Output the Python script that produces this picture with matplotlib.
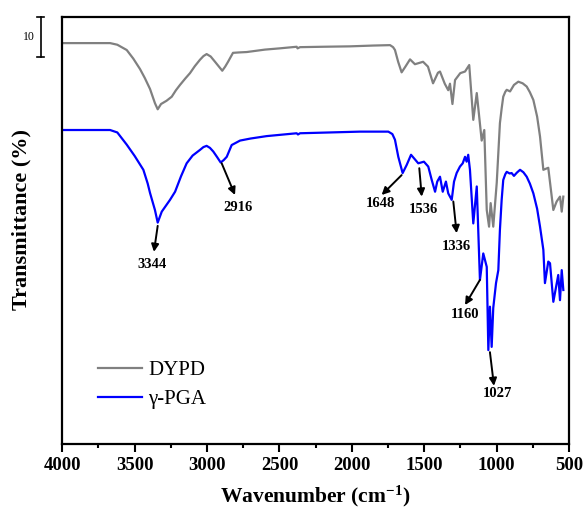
import numpy as np
import matplotlib
matplotlib.use("Agg")
import matplotlib.pyplot as plt

plt.rcParams['font.family'] = ['Liberation Serif', 'DejaVu Serif']
plt.rcParams['mathtext.fontset'] = 'custom'
plt.rcParams['mathtext.rm'] = 'Liberation Serif:bold'
plt.rcParams['mathtext.it'] = 'Liberation Serif:bold'
plt.rcParams['mathtext.bf'] = 'Liberation Serif:bold'

# ---- data (wavenumber, transmittance with offset) ----
dypd_wn = [4000, 3670, 3620, 3555, 3510, 3463, 3430, 3394, 3360, 3341, 3318, 3280,
           3244, 3215, 3187, 3150, 3118, 3085, 3049, 3025, 3003, 2975, 2945, 2920,
           2895, 2875, 2855, 2821, 2780, 2726, 2600, 2500, 2381, 2375, 2358, 2200,
           2013, 1850, 1736, 1715, 1702, 1680, 1656, 1630, 1598, 1564, 1508, 1474,
           1439, 1405, 1391, 1358, 1334, 1322, 1305, 1287, 1251, 1218, 1189, 1161,
           1137, 1103, 1085, 1068, 1052, 1041, 1023, 999, 977, 965, 954, 940, 930,
           907, 880, 850, 820, 792, 770, 746, 720, 700, 677, 643, 608, 585, 562,
           550, 539]
dypd_t = [98.6, 98.6, 98.2, 96.9, 94.8, 92.2, 90.0, 87.3, 83.8, 82.3, 83.6, 84.4,
          85.4, 87.0, 88.3, 89.9, 91.2, 92.9, 94.5, 95.4, 95.9, 95.3, 94.0, 92.9,
          91.8, 92.8, 94.0, 96.2, 96.3, 96.4, 97.0, 97.3, 97.7, 97.3, 97.6, 97.7,
          97.8, 98.0, 98.1, 97.6, 96.9, 94.0, 91.4, 92.8, 94.6, 93.4, 94.0, 92.8,
          88.7, 91.3, 91.6, 88.6, 87.0, 88.6, 83.6, 89.5, 91.2, 91.6, 93.2, 79.7,
          86.3, 74.6, 77.2, 57.5, 53.4, 59.2, 53.4, 64.2, 78.9, 82.5, 85.4, 86.6,
          87.1, 86.7, 88.3, 89.1, 88.7, 87.9, 86.5, 84.6, 80.5, 75.6, 67.4, 67.9,
          57.5, 59.6, 60.8, 57.1, 60.8]

pga_wn = [4000, 3670, 3620, 3555, 3500, 3440, 3410, 3394, 3360, 3341, 3313, 3256,
          3221, 3180, 3141, 3100, 3049, 3025, 3003, 2980, 2957, 2930, 2906, 2885,
          2864, 2830, 2772, 2700, 2588, 2381, 2372, 2358, 2150, 1944, 1748, 1720,
          1702, 1679, 1649, 1621, 1591, 1541, 1502, 1472, 1448, 1425, 1410, 1391,
          1372, 1350, 1334, 1310, 1294, 1276, 1253, 1234, 1218, 1207, 1196, 1184,
          1161, 1137, 1115, 1092, 1068, 1057, 1046, 1034, 1023, 1004, 988, 977,
          965, 954, 940, 930, 910, 896, 880, 860, 838, 815, 792, 770, 746, 720,
          700, 677, 666, 643, 631, 608, 574, 562, 550, 539]
pga_t = [77.2, 77.2, 76.6, 73.6, 70.8, 67.4, 64.0, 61.7, 57.5, 54.4, 57.1, 60.0,
         62.0, 65.8, 69.0, 70.9, 72.3, 73.0, 73.3, 72.8, 71.9, 70.5, 69.2, 69.8,
         70.6, 73.5, 74.6, 75.1, 75.7, 76.4, 76.1, 76.4, 76.6, 76.8, 76.8, 76.2,
         74.8, 70.6, 66.6, 68.6, 71.1, 69.0, 69.4, 68.2, 64.9, 62.0, 64.5, 65.7,
         62.0, 64.5, 61.6, 60.0, 64.5, 66.6, 68.2, 69.0, 70.6, 69.4, 71.1, 67.4,
         54.2, 63.3, 40.3, 46.8, 43.5, 23.0, 33.7, 23.8, 33.4, 39.5, 42.7, 52.6,
         60.0, 64.9, 66.3, 66.9, 66.5, 66.6, 65.9, 66.7, 67.4, 66.8, 65.7, 64.0,
         61.6, 57.8, 53.4, 47.7, 39.5, 44.8, 44.4, 34.9, 41.5, 35.3, 42.7, 37.8]

# peak labels: (text, arrow start, arrow end, label position)
peaks = [("3344", (3341, 53.6), (3367, 47.2), (3380, 44.2)),
         ("2916", (2899, 69.0), (2807, 61.2), (2786, 58.2)),
         ("1648", (1656, 66.1), (1794, 61.2), (1805, 59.0)),
         ("1536", (1534, 67.8), (1517, 60.8), (1506, 57.7)),
         ("1336", (1299, 59.6), (1276, 51.8), (1276, 48.6)),
         ("1160", (1115, 40.3), (1218, 34.1), (1218, 31.7)),
         ("1027", (1046, 22.5), (1018, 14.2), (997, 12.4))]

fig = plt.figure(figsize=(5.85, 5.14), dpi=100)
ax = fig.add_axes([0.1065, 0.1371, 0.8661, 0.8304])

ax.plot(dypd_wn, dypd_t, color='#808080', lw=1.6, label='DYPD')
ax.plot(pga_wn, pga_t, color='#0000ff', lw=1.6, label='γ-PGA')

for txt, start, end, pos in peaks:
    ax.annotate('', xy=end, xytext=start,
                arrowprops=dict(arrowstyle='-|>', color='black', lw=1.4,
                                mutation_scale=11, shrinkA=0, shrinkB=0))
    ax.text(pos[0], pos[1], txt, ha='center', va='center',
            fontsize=10.5, fontweight='bold')

ax.set_xlim(4000, 500)
ax.set_ylim(0, 105.1)
ax.set_xticks(np.arange(4000, 499, -500))
ax.set_xticks(np.arange(3750, 500, -500), minor=True)
ax.set_yticks([])
ax.tick_params(axis='x', which='major', direction='out', length=6, width=1.5,
               labelsize=13.5, pad=4)
ax.tick_params(axis='x', which='minor', direction='out', length=3, width=1.5)
for lab in ax.get_xticklabels():
    lab.set_fontweight('bold')
for sp in ax.spines.values():
    sp.set_linewidth(1.6)

ax.set_xlabel('Wavenumber (cm$^{-1}$)', fontsize=15.5, fontweight='bold')
ax.xaxis.label.set_va('center')
ax.xaxis.set_label_coords(0.5, -0.125)
ax.set_ylabel('Transmittance (%)', fontsize=16, fontweight='bold')
ax.yaxis.label.set_va('center')
ax.yaxis.set_label_coords(-0.080, 0.526)

# scale bar (10 units)
ax.plot([4149, 4149], [95.1, 105.1], color='black', lw=1.2, clip_on=False)
ax.plot([4125, 4173], [105.1, 105.1], color='black', lw=1.2, clip_on=False)
ax.plot([4125, 4173], [95.1, 95.1], color='black', lw=1.2, clip_on=False)
ax.text(4230, 100.1, '10', ha='center', va='center', fontsize=8.5)

ax.legend(loc='center left', bbox_to_anchor=(0.0705, 0.138), frameon=False,
          fontsize=15, handlelength=2.1, handletextpad=0.3, borderpad=0,
          borderaxespad=0, labelspacing=0.45)

fig.savefig('out.png', dpi=100)
